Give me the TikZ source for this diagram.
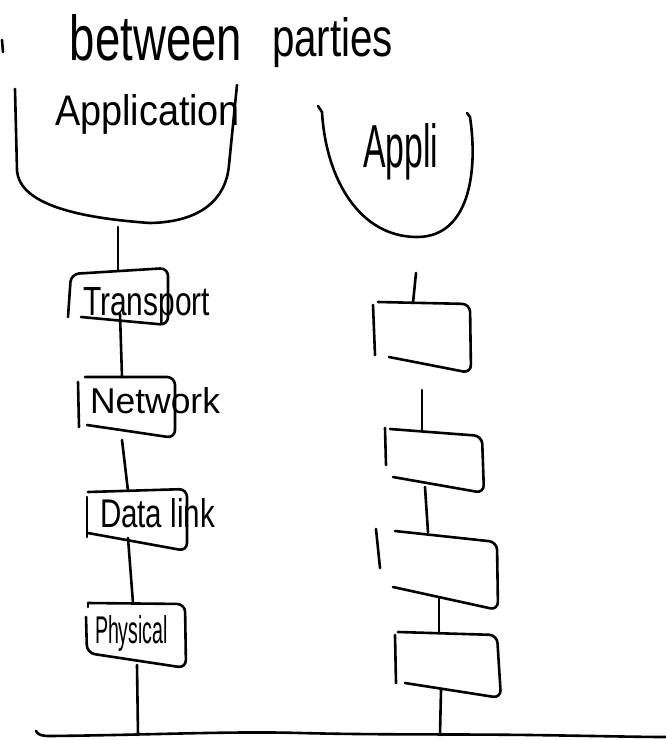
\documentclass[tikz,border=0pt]{standalone}
\usepackage{fontspec}
\setmainfont{Liberation Sans}
\newcommand{\hwtext}[3]{\resizebox{#1}{#2}{#3}}
\tikzset{
  pen/.style={line width=2.6pt, line cap=round, line join=round, black},
  hw/.style={inner sep=0pt, outer sep=0pt, anchor=base west},
  boxpen/.style={pen, rounded corners=8pt}
}
\begin{document}
\begin{tikzpicture}[x=1pt,y=-1pt]
\useasboundingbox (0,0) rectangle (666,740);
\fill[white] (0,0) rectangle (666,740);

% title
\draw[pen] (2,40) -- (3,52);
\node[hw] (tbetween) at (70,60) {\hwtext{172pt}{46pt}{between}};
\node[hw] (tparties) at (272,56) {\hwtext{121pt}{39pt}{parties}};

% left party: application bowl
\draw[pen] (15,89) -- (17,170) .. controls (19,205) and (80,218) .. (150,223)
  .. controls (200,222) and (226,200) .. (229,165) -- (237,85);
\node[hw] (tapp) at (55,125) {\hwtext{185pt}{31pt}{Application}};

% right party: appli bowl
\draw[pen] (318,106) -- (322,112) .. controls (326,180) and (360,237) .. (417,237)
  .. controls (470,237) and (478,170) .. (470,117) -- (467,113);
\node[hw] (tappli) at (363,167) {\hwtext{75pt}{44pt}{Appli}};

% ---------------- left stack ----------------
\coordinate (appbot) at (118,227);
\coordinate (trtop) at (118,270);
\coordinate (trbot) at (120,314);
\coordinate (nettop) at (122,377);
\coordinate (netbot) at (122,440);
\coordinate (dltop) at (128,491);
\coordinate (dlbot) at (128,538);
\coordinate (phtop) at (133,603);
\coordinate (phbot) at (137,665);
\coordinate (gl) at (138,735);

% Transport
\draw[boxpen] (68,317) -- (71,274) -- (168,268) -- (168,325) -- (81,317);
\node[hw] (ttrans) at (83,315) {\hwtext{127pt}{28pt}{Transport}};
% Network
\draw[pen] (78,382) -- (79,427);
\draw[boxpen] (85,377) -- (175,377) -- (175,438) -- (87,425);
\node[hw] (tnet) at (90,413) {\hwtext{130pt}{26pt}{Network}};
% Data link
\draw[pen] (87,497) -- (87,537);
\draw[boxpen] (88,492) -- (187,489) -- (187,551) -- (88,533);
\node[hw] (tdl) at (100,527) {\hwtext{115pt}{29pt}{Data link}};
% Physical
\draw[pen] (88,607) -- (88,603);
\draw[boxpen] (86,617) -- (87,653) -- (186,668) -- (185,604) -- (88,603);
\node[hw] (tphys) at (95,643) {\hwtext{73pt}{28pt}{Physical}};

\draw[pen] (appbot) -- (trtop);
\draw[pen] (trbot) -- (nettop);
\draw[pen] (netbot) -- (dltop);
\draw[pen] (dlbot) -- (phtop);
\draw[pen] (phbot) -- (gl);

% ---------------- right stack ----------------
\coordinate (ubot) at (416,273);
\coordinate (r1top) at (413,303);
\coordinate (r1bot) at (422,390);
\coordinate (r2top) at (422,430);
\coordinate (r2bot) at (425,487);
\coordinate (r3top) at (428,532);
\coordinate (r3bot) at (439,598);
\coordinate (r4top) at (439,633);
\coordinate (r4bot) at (441,690);
\coordinate (gr) at (440,735);

\draw[pen] (373,305) -- (375,355);
\draw[boxpen] (378,302) -- (470,304) -- (471,373) -- (389,357);
\draw[pen] (385,428) -- (386,465);
\draw[boxpen] (390,429) -- (482,436) -- (484,493) -- (393,477);
\draw[pen] (376,529) -- (380,568);
\draw[boxpen] (395,531) -- (497,542) -- (498,610) -- (393,587);
\draw[pen] (395,635) -- (396,683);
\draw[boxpen] (398,632) -- (497,635) -- (501,698) -- (405,683);

\draw[pen] (ubot) -- (r1top);
\draw[pen] (r1bot) -- (r2top);
\draw[pen] (r2bot) -- (r3top);
\draw[pen] (r3bot) -- (r4top);
\draw[pen] (r4bot) -- (gr);

% ground line
\draw[pen] (36,731) .. controls (38,735) and (42,736) .. (50,736)
  .. controls (150,735) and (230,731) .. (300,733)
  .. controls (380,735) and (450,734) .. (530,735)
  .. controls (600,736) and (640,737) .. (666,737);
\end{tikzpicture}
\end{document}
